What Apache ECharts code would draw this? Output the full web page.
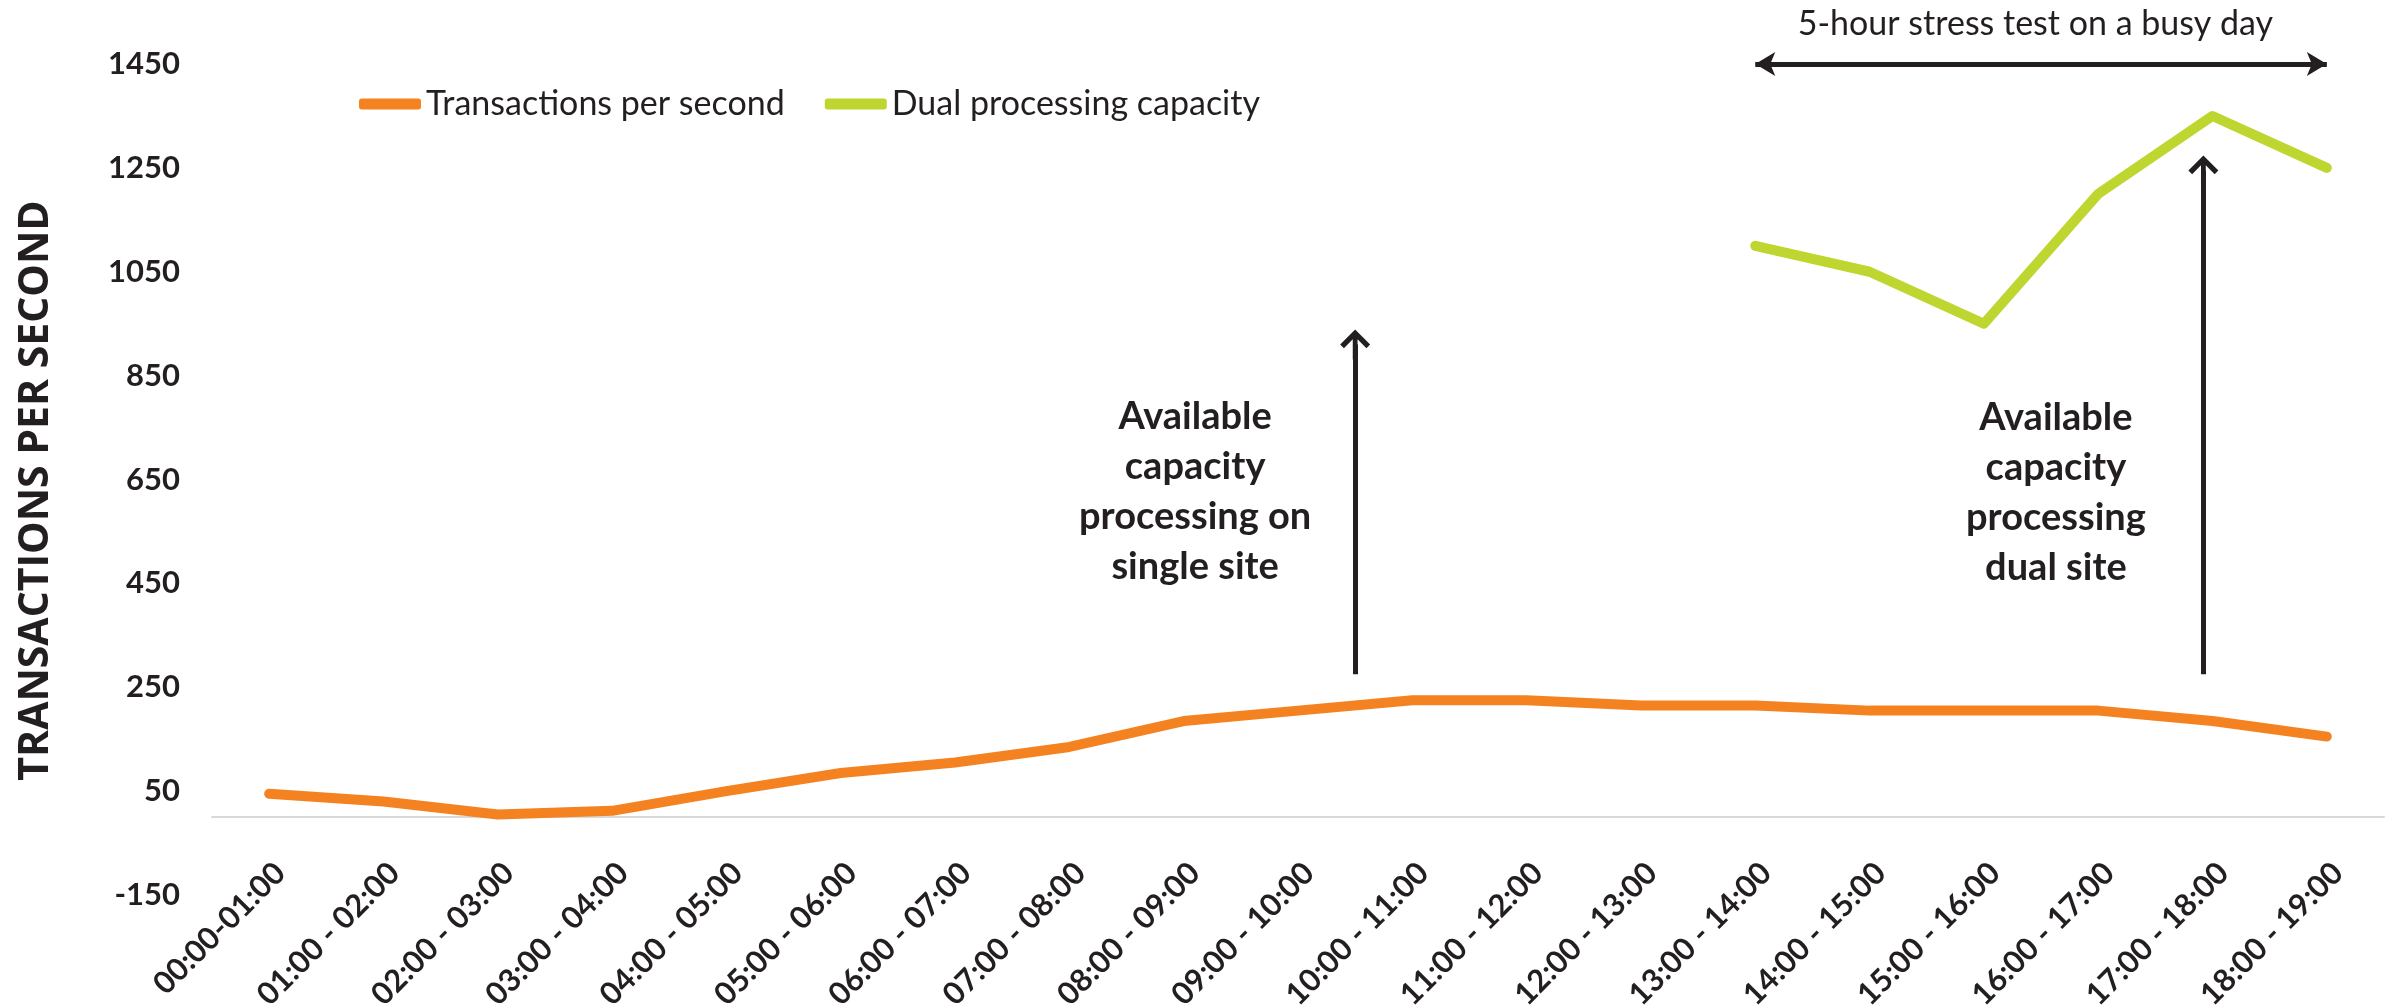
<!DOCTYPE html>
<html>
<head>
<meta charset="utf-8">
<script src="https://cdn.jsdelivr.net/npm/echarts@6/dist/echarts.min.js"></script>
<style>
  html, body { margin: 0; padding: 0; background: #fff; }
  #main { width: 2400px; height: 1007px; }
</style>
</head>
<body>
<div id="main"></div>
<script>
// hourly slots
const categories = ['00:00-01:00', '01:00 - 02:00', '02:00 - 03:00', '03:00 - 04:00', '04:00 - 05:00',
  '05:00 - 06:00', '06:00 - 07:00', '07:00 - 08:00', '08:00 - 09:00', '09:00 - 10:00', '10:00 - 11:00',
  '11:00 - 12:00', '12:00 - 13:00', '13:00 - 14:00', '14:00 - 15:00', '15:00 - 16:00', '16:00 - 17:00',
  '17:00 - 18:00', '18:00 - 19:00']
const transactions = [45, 30, 5, 12, 50, 85, 105, 135, 185, 205, 225, 225, 215, 215, 205, 205, 205, 185, 155]
const dualCapacity = [null, null, null, null, null, null, null, null, null, null, null, null, null,
  1100, 1050, 950, 1200, 1350, 1250]
const yTicks = [-150, 50, 250, 450, 650, 850, 1050, 1250, 1450]

// annotations, in (category index, value) units
const stressSpan = [13, 18]
const stressLevel = 1450
const singleArrow = [9.5, 275, 910]
const dualArrow = [16.92, 275, 1245]
const notes = [
  { x: 8.1, y: 626, text: 'Available\ncapacity\nprocessing on\nsingle site', bold: true },
  { x: 15.63, y: 624, text: 'Available\ncapacity\nprocessing\ndual site', bold: true },
  { x: 15.45, y: 1527, text: '5-hour stress test on a busy day', bold: false }
]

const ink = '#231F20'
const chevron = 'path://M0,10 L10,0 L20,10 L17.5,12.5 L11.6,6.6 L11.6,20 L8.4,20 L8.4,6.6 L2.5,12.5 Z'

const chart = echarts.init(document.getElementById('main'))

const option = {
  animation: false,
  backgroundColor: '#fff',
  grid: { left: 212, right: 16, top: 64, bottom: 112, containLabel: false, outerBoundsMode: 'none' },
  legend: {
    data: ['Transactions per second', 'Dual processing capacity'],
    left: 354,
    top: 82,
    icon: 'roundRect',
    itemWidth: 62,
    itemHeight: 11,
    itemGap: 40,
    textStyle: { fontFamily: 'Lato', fontSize: 34, color: ink }
  },
  xAxis: [
    {
      type: 'category',
      data: categories,
      axisLine: { onZero: false, lineStyle: { color: '#D9D9D9', width: 2 } },
      axisTick: { show: false },
      axisLabel: {
        rotate: 45,
        margin: 40,
        interval: 0,
        align: 'right',
        verticalAlign: 'top',
        fontFamily: 'Lato',
        fontWeight: 'bold',
        fontSize: 31,
        color: ink
      }
    },
    { type: 'value', min: -0.5, max: 18.5, show: false }
  ],
  yAxis: {
    type: 'value',
    min: -150,
    max: 1450,
    name: 'TRANSACTIONS PER SECOND',
    nameLocation: 'middle',
    nameRotate: 90,
    nameGap: 155,
    nameTextStyle: {
      fontFamily: 'Open Sans', fontWeight: 'bold', fontSize: 41, color: ink,
      padding: [0, 22, 0, 0]
    },
    axisLine: { show: false, onZero: false },
    axisTick: { show: false },
    splitLine: { show: false },
    axisLabel: {
      customValues: yTicks,
      formatter: v => String(v),
      margin: 32,
      fontFamily: 'Lato',
      fontWeight: 'bold',
      fontSize: 31,
      color: ink
    }
  },
  series: [
    {
      name: 'Transactions per second',
      type: 'line',
      data: transactions,
      showSymbol: false,
      color: '#F58220',
      lineStyle: { width: 10, cap: 'round', join: 'round' }
    },
    {
      name: 'Dual processing capacity',
      type: 'line',
      data: dualCapacity,
      showSymbol: false,
      color: '#BED62F',
      lineStyle: { width: 10, cap: 'round', join: 'round' }
    },
    {
      name: 'notes',
      type: 'line',
      xAxisIndex: 1,
      data: [],
      markLine: {
        silent: true,
        label: { show: false },
        lineStyle: { color: ink, width: 5, type: 'solid' },
        emphasis: { disabled: true },
        data: [
          [
            { coord: [stressSpan[0], stressLevel], symbol: 'arrow', symbolSize: [18, 20] },
            { coord: [stressSpan[1], stressLevel], symbol: 'arrow', symbolSize: [18, 20] }
          ],
          [
            { coord: [singleArrow[0], singleArrow[1]], symbol: 'none' },
            { coord: [singleArrow[0], singleArrow[2]], symbol: chevron, symbolSize: [30, 30] }
          ],
          [
            { coord: [dualArrow[0], dualArrow[1]], symbol: 'none' },
            { coord: [dualArrow[0], dualArrow[2]], symbol: chevron, symbolSize: [30, 30] }
          ]
        ]
      }
    }
  ]
}

chart.setOption(option)

// category axis sits on the zero line (labels too), like the spreadsheet original
const zeroY = chart.convertToPixel({ yAxisIndex: 0 }, 0)
const floorY = chart.convertToPixel({ yAxisIndex: 0 }, yTicks[0])

// text notes placed through the chart's own axes
const graphic = notes.map(n => {
  const p = chart.convertToPixel({ xAxisIndex: 1, yAxisIndex: 0 }, [n.x, n.y])
  return {
    type: 'text',
    x: p[0],
    y: p[1],
    silent: true,
    style: {
      text: n.text,
      fill: ink,
      fontFamily: 'Lato',
      fontWeight: n.bold ? 'bold' : 'normal',
      fontSize: n.bold ? 38 : 34,
      lineHeight: n.bold ? 50 : 40,
      align: 'center',
      verticalAlign: 'middle'
    }
  }
})
chart.setOption({
  xAxis: [{ offset: zeroY - floorY }, {}],
  graphic: graphic
})
</script>
</body>
</html>
